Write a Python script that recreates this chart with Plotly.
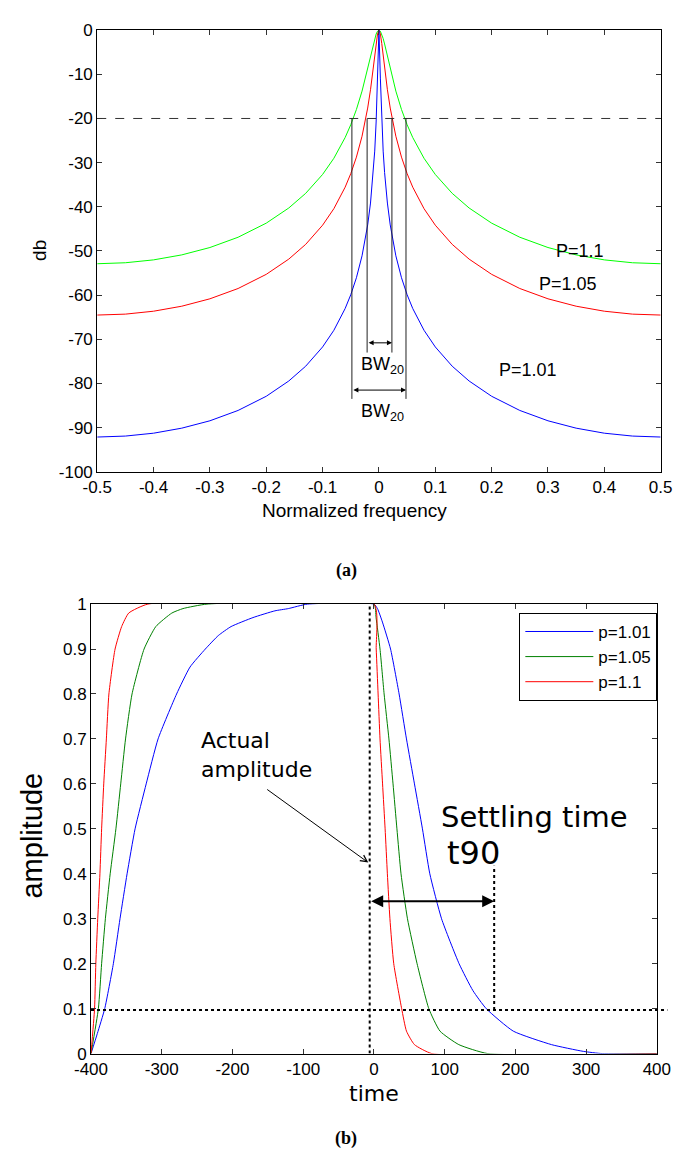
import plotly.graph_objects as go

# ---------------- data: panel (a) ----------------
freq = [-0.5, -0.45, -0.4, -0.35, -0.3, -0.25, -0.2, -0.16, -0.13, -0.1, -0.08, -0.06, -0.05,
        -0.04, -0.03, -0.02, -0.015, -0.01, -0.0075, -0.005, -0.0025, 0.0,
        0.0025, 0.005, 0.0075, 0.01, 0.015, 0.02, 0.03, 0.04, 0.05, 0.06, 0.08, 0.1,
        0.13, 0.16, 0.2, 0.25, 0.3, 0.35, 0.4, 0.45, 0.5]
db_p110 = [-52.89, -52.67, -52.02, -50.89, -49.22, -46.89, -43.70, -40.27, -36.95, -32.67, -29.01, -24.32, -21.41,
           -17.97, -13.80, -8.74, -5.92, -3.13, -1.90, -0.89, -0.23, 0.0,
           -0.23, -0.89, -1.90, -3.13, -5.92, -8.74, -13.80, -17.97, -21.41, -24.32, -29.01, -32.67,
           -36.95, -40.27, -43.70, -46.89, -49.22, -50.89, -52.02, -52.67, -52.89]
db_p105 = [-64.51, -64.30, -63.64, -62.51, -60.83, -58.50, -55.29, -51.84, -48.50, -44.16, -40.42, -35.56, -32.49,
           -28.75, -24.02, -17.64, -13.49, -8.49, -5.72, -3.01, -0.86, 0.0,
           -0.86, -3.01, -5.72, -8.49, -13.49, -17.64, -24.02, -28.75, -32.49, -35.56, -40.42, -44.16,
           -48.50, -51.84, -55.29, -58.50, -60.83, -62.51, -63.64, -64.30, -64.51]
db_p101 = [-92.13, -91.91, -91.26, -90.12, -88.45, -86.11, -82.90, -79.44, -76.09, -71.73, -67.96, -63.04, -59.91,
           -56.06, -51.10, -44.10, -39.15, -32.23, -27.39, -20.80, -10.86, 0.0,
           -10.86, -20.80, -27.39, -32.23, -39.15, -44.10, -51.10, -56.06, -59.91, -63.04, -67.96, -71.73,
           -76.09, -79.44, -82.90, -86.11, -88.45, -90.12, -91.26, -91.91, -92.13]
top_labels = ["P=1.1", "P=1.05", "P=1.01"]
top_label_x = [0.357, 0.335, 0.264]
top_label_y = [-50.0, -57.5, -77.0]
bw_level = -20
bw_outer = [-0.048, 0.048]
bw_inner = [-0.021, 0.023]
bw_outer_bottom = -83.5
bw_inner_bottom = -73.0
bw_outer_arrow_y = -81.5
bw_inner_arrow_y = -70.8
bw_outer_text_y = -86.5
bw_inner_text_y = -76.0

# ---------------- data: panel (b) ----------------
t_blue = [-400, -391, -380.6, -368.4, -359, -349, -337.7, -322, -305.2, -279, -260, -238.4, -220, -202, -171,
          -140, -121, -94, 0, 5, 12, 23.5, 35.6, 46, 57.3, 68.6, 79, 95.6, 120.4, 140, 158.8, 197, 251, 296, 323, 400]
a_blue = [0, 0.045, 0.1, 0.2, 0.3, 0.4, 0.5, 0.6, 0.7, 0.8, 0.86, 0.9, 0.93, 0.95, 0.97,
          0.985, 0.99, 1.0, 1.0, 0.99, 0.96, 0.9, 0.8, 0.7, 0.6, 0.5, 0.4, 0.3, 0.2, 0.14, 0.1, 0.05, 0.02, 0.005, 0.0, 0.0]
t_green = [-400, -389.6, -385, -379.7, -372.9, -364.8, -358, -351.2, -342, -325, -308.4, -285.8, -270, -236,
           0, 3, 8.6, 14.4, 21.2, 27, 32.5, 38.3, 47.4, 61, 77.6, 93.4, 120, 161, 400]
a_green = [0, 0.1, 0.2, 0.3, 0.4, 0.5, 0.6, 0.7, 0.8, 0.9, 0.95, 0.98, 0.99, 1.0,
           1.0, 0.97, 0.9, 0.8, 0.7, 0.6, 0.5, 0.4, 0.3, 0.2, 0.1, 0.05, 0.02, 0.0, 0.0]
t_red = [-400, -395, -393.2, -390.5, -387.4, -385, -382, -378.3, -374.7, -366, -356.7, -346.7, -319.6,
         0, 3.2, 5.9, 8.6, 12.2, 15.8, 19, 22.6, 28, 39.2, 46, 57.3, 82, 400]
a_red = [0, 0.1, 0.2, 0.3, 0.4, 0.5, 0.6, 0.7, 0.8, 0.9, 0.95, 0.98, 1.0,
         1.0, 0.9, 0.8, 0.7, 0.6, 0.5, 0.4, 0.3, 0.2, 0.1, 0.05, 0.02, 0.0, 0.0]
legend_names = ["p=1.01", "p=1.05", "p=1.1"]
t_actual = -6
t_settle = 170
level_10 = 0.097
arrow_amp = 0.339
settle_top = 0.418
actual_arrow_from = (-153, 0.59)
actual_arrow_to = (-8, 0.425)
actual_text_pos = (-248, 0.665)
settling_text_pos = (92, 0.527)
t90_text_pos = (100, 0.447)

# ---------------- layout helpers ----------------
W, H = 689, 1160
def px(x):
    return x / W
def py(y):
    return 1 - y / H

ARIAL = "Liberation Sans, Arial, sans-serif"
DEJAVU = "DejaVu Sans, Verdana, sans-serif"

TOP_X = [px(84), px(674)]
TOP_Y = [py(470.5), py(21.5)]
BOT_X = [px(77.5), px(670)]
BOT_Y = [py(1062), py(605)]

fig = go.Figure()

for vals, col in zip([db_p110, db_p105, db_p101], ["#00ff00", "#ff0000", "#0000ff"]):
    fig.add_trace(go.Scatter(x=freq, y=vals, mode="lines", line=dict(color=col, width=1),
                             showlegend=False, xaxis="x", yaxis="y", hoverinfo="skip"))

for tt, aa, col, nm in zip([t_blue, t_green, t_red], [a_blue, a_green, a_red],
                           ["#0000ff", "#008000", "#ff0000"], legend_names):
    fig.add_trace(go.Scatter(x=tt, y=aa, mode="lines",
                             line=dict(color=col, width=1, shape="spline", smoothing=0.5),
                             name=nm, xaxis="x2", yaxis="y2"))

axis_common = dict(showgrid=False, zeroline=False, showline=True, linecolor="black", linewidth=1,
                   mirror="ticks", ticks="inside", ticklen=5, tickcolor="#333",
                   tickfont=dict(family=ARIAL, size=17, color="black"))

xt_top = [-0.5, -0.4, -0.3, -0.2, -0.1, 0, 0.1, 0.2, 0.3, 0.4, 0.5]
yt_top = [0, -10, -20, -30, -40, -50, -60, -70, -80, -90, -100]
xt_bot = [-400, -300, -200, -100, 0, 100, 200, 300, 400]
yt_bot = [0, 0.1, 0.2, 0.3, 0.4, 0.5, 0.6, 0.7, 0.8, 0.9, 1]

fig.update_layout(
    width=W, height=H, margin=dict(l=0, r=0, t=0, b=0),
    paper_bgcolor="white", plot_bgcolor="white",
    xaxis=dict(domain=TOP_X, range=[-0.5, 0.5], tickvals=xt_top,
               ticktext=[f"{v:g}" for v in xt_top], anchor="y", **axis_common),
    yaxis=dict(domain=TOP_Y, range=[-100, 0], tickvals=yt_top,
               ticktext=[f"{v:g}" for v in yt_top], anchor="x", **axis_common),
    xaxis2=dict(domain=BOT_X, range=[-400, 400], tickvals=xt_bot,
                ticktext=[f"{v:g}" for v in xt_bot], anchor="y2", **axis_common),
    yaxis2=dict(domain=BOT_Y, range=[0, 1], tickvals=yt_bot,
                ticktext=[f"{v:g}" for v in yt_bot], anchor="x2", **axis_common),
    legend=dict(x=px(526), y=py(614), xanchor="left", yanchor="top",
                bordercolor="black", borderwidth=1, bgcolor="white", itemwidth=68,
                font=dict(family=ARIAL, size=17, color="black"), tracegroupgap=0),
    showlegend=True,
)

# paper position of the 0.1 settling level (extends a little past the frame like the original)
lvl_paper = BOT_Y[0] + level_10 * (BOT_Y[1] - BOT_Y[0])

shapes = []
shapes.append(dict(type="line", xref="x", yref="y", x0=-0.5, x1=0.5, y0=bw_level, y1=bw_level,
                   line=dict(color="#333", width=1, dash="dash")))
for xv in bw_outer:
    shapes.append(dict(type="line", xref="x", yref="y", x0=xv, x1=xv, y0=bw_level, y1=bw_outer_bottom,
                       line=dict(color="#222", width=1)))
for xv in bw_inner:
    shapes.append(dict(type="line", xref="x", yref="y", x0=xv, x1=xv, y0=bw_level, y1=bw_inner_bottom,
                       line=dict(color="#222", width=1)))
shapes.append(dict(type="line", xref="x2", yref="y2", x0=t_actual, x1=t_actual, y0=0, y1=1,
                   line=dict(color="black", width=2, dash="dot")))
shapes.append(dict(type="line", xref="x2", yref="y2", x0=t_settle, x1=t_settle, y0=level_10, y1=settle_top,
                   line=dict(color="black", width=2, dash="dot")))
shapes.append(dict(type="line", xref="paper", yref="paper", x0=BOT_X[0], x1=BOT_X[1] + px(11),
                   y0=lvl_paper, y1=lvl_paper, line=dict(color="black", width=2, dash="dot")))
fig.update_layout(shapes=shapes)

def txt(x, y, text, font, size, xref="paper", yref="paper", xanchor="center", angle=0, align="center"):
    return dict(x=x, y=y, xref=xref, yref=yref, text=text, showarrow=False, xanchor=xanchor,
                yanchor="middle", textangle=angle, align=align,
                font=dict(family=font, size=size, color="black"))

ann = []
for t_, xv, yv in zip(top_labels, top_label_x, top_label_y):
    ann.append(txt(xv, yv, t_, ARIAL, 18, "x", "y"))
for ybar, xs in [(bw_inner_arrow_y, bw_inner), (bw_outer_arrow_y, bw_outer)]:
    ann.append(dict(x=xs[1], y=ybar, ax=xs[0], ay=ybar, xref="x", yref="y", axref="x", ayref="y",
                    text="", showarrow=True, arrowhead=2, arrowside="end+start",
                    arrowsize=1, arrowwidth=1, arrowcolor="black"))
for yv in [bw_inner_text_y, bw_outer_text_y]:
    ann.append(txt(0.006, yv, "BW<sub>20</sub>", ARIAL, 18, "x", "y"))
ann.append(txt(px(353), py(510), "Normalized frequency", ARIAL, 19))
ann.append(txt(px(24), py(245), "db", ARIAL, 19, angle=-90))
ann.append(txt(px(345), py(571), "<b>(a)</b>", "Liberation Serif, serif", 18))
ann.append(txt(px(374), py(1103), "time", DEJAVU, 22))
ann.append(txt(px(16), py(840), "amplitude", ARIAL, 29, angle=-90))
ann.append(txt(px(345), py(1148), "<b>(b)</b>", "Liberation Serif, serif", 18))
ann.append(txt(actual_text_pos[0], actual_text_pos[1], "Actual<br>amplitude", DEJAVU, 22,
               "x2", "y2", xanchor="left", align="left"))
ann.append(dict(x=actual_arrow_to[0], y=actual_arrow_to[1], ax=actual_arrow_from[0], ay=actual_arrow_from[1],
                xref="x2", yref="y2", axref="x2", ayref="y2", text="", showarrow=True, arrowhead=5,
                arrowsize=1.3, arrowwidth=1, arrowcolor="black"))
ann.append(txt(settling_text_pos[0], settling_text_pos[1], "Settling time", DEJAVU, 29, "x2", "y2", xanchor="left"))
ann.append(txt(t90_text_pos[0], t90_text_pos[1], "t90", DEJAVU, 32, "x2", "y2", xanchor="left"))
ann.append(dict(x=t_settle, y=arrow_amp, ax=t_actual, ay=arrow_amp, xref="x2", yref="y2",
                axref="x2", ayref="y2", text="", showarrow=True, arrowhead=2, arrowside="end+start",
                arrowsize=1.2, arrowwidth=2, arrowcolor="black"))
fig.update_layout(annotations=ann)

fig.write_html("out.html")
